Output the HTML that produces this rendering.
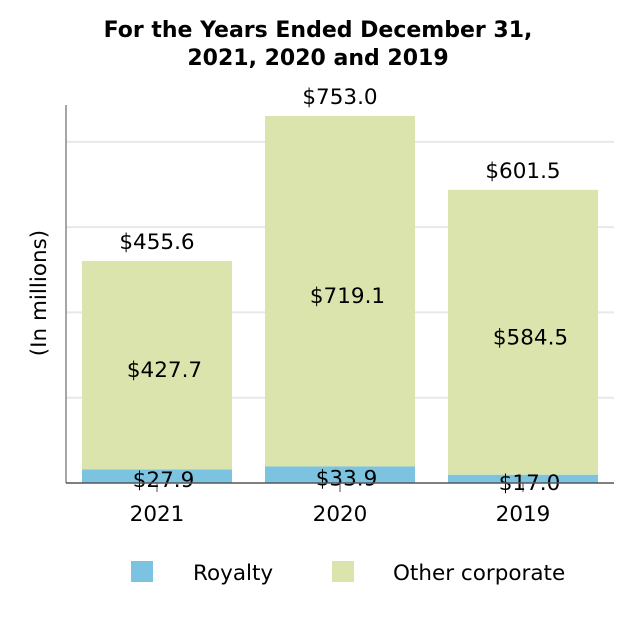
<!DOCTYPE html>
<html><head><meta charset="utf-8"><style>
body{margin:0;background:#fff;}
svg text{font-family:"DejaVu Sans","Liberation Sans",sans-serif;fill:#000;}
</style></head><body>
<svg width="634" height="612" xmlns="http://www.w3.org/2000/svg">
<text x="318" y="37" text-anchor="middle" font-size="22" font-weight="bold">For the Years Ended December 31,</text>
<text x="318" y="65" text-anchor="middle" font-size="22" font-weight="bold">2021, 2020 and 2019</text>
<text transform="translate(46,293) rotate(-90)" text-anchor="middle" font-size="21.5">(In millions)</text>
<g id="grid"></g>
<g id="bars"></g>
<line x1="66" y1="105" x2="66" y2="483" stroke="#888" stroke-width="1.5"/>
<line x1="66" y1="483" x2="614" y2="483" stroke="#555" stroke-width="1.5"/>
<rect x="131" y="561" width="22" height="21" fill="#7bc3e0"/>
<text x="193" y="580" font-size="21.5">Royalty</text>
<rect x="332" y="561" width="22" height="21" fill="#dce4ad"/>
<text x="393" y="580" font-size="21.5">Other corporate</text>
</svg>
<script>
const years=["2021","2020","2019"];
const royalty=[27.9,33.9,17.0];
const other=[427.7,719.1,584.5];
const totals=[455.6,753.0,601.5];
const gridVals=[175,350,525,700];
const NS="http://www.w3.org/2000/svg";
const y0=483,k=0.4874,FS=21.5;
const y=v=>y0-v*k;
const bx=i=>82+i*183, bw=150;
function mk(t,a,p){const e=document.createElementNS(NS,t);for(const n in a)e.setAttribute(n,a[n]);p.appendChild(e);return e;}
const g=document.getElementById('grid'),b=document.getElementById('bars');
gridVals.forEach(v=>{const l=mk('line',{x1:66,x2:614,y1:y(v),y2:y(v),stroke:'#e8e8e8','stroke-width':2},g);

});
years.forEach((yr,i)=>{
 const x=bx(i),cx=x+bw/2;
 const r=mk('rect',{x:x,y:y(royalty[i]),width:bw,height:royalty[i]*k,fill:'#7bc3e0'},b);
 
 
 const o=mk('rect',{x:x,y:y(royalty[i]+other[i]),width:bw,height:other[i]*k,fill:'#dce4ad'},b);
 
 
 const tk=mk('line',{x1:cx,x2:cx,y1:483,y2:492,stroke:'#888','stroke-width':1.5},b);
 
 
 const t1=mk('text',{x:cx,y:521,'text-anchor':'middle','font-size':FS},b);t1.textContent=yr;
 
 
 const t2=mk('text',{x:cx,y:y(totals[i])-12,'text-anchor':'middle','font-size':FS},b);t2.textContent='$'+totals[i].toFixed(1);
 
 
 const t3=mk('text',{x:cx+7.5,y:(y(royalty[i])+y(royalty[i]+other[i]))/2+12,'text-anchor':'middle','font-size':FS},b);t3.textContent='$'+other[i].toFixed(1);
 
 
 const t4=mk('text',{x:cx+6.5,y:(y(royalty[i])+y0)/2+11,'text-anchor':'middle','font-size':FS},b);t4.textContent='$'+royalty[i].toFixed(1);
 
 
});
</script>
</body></html>
